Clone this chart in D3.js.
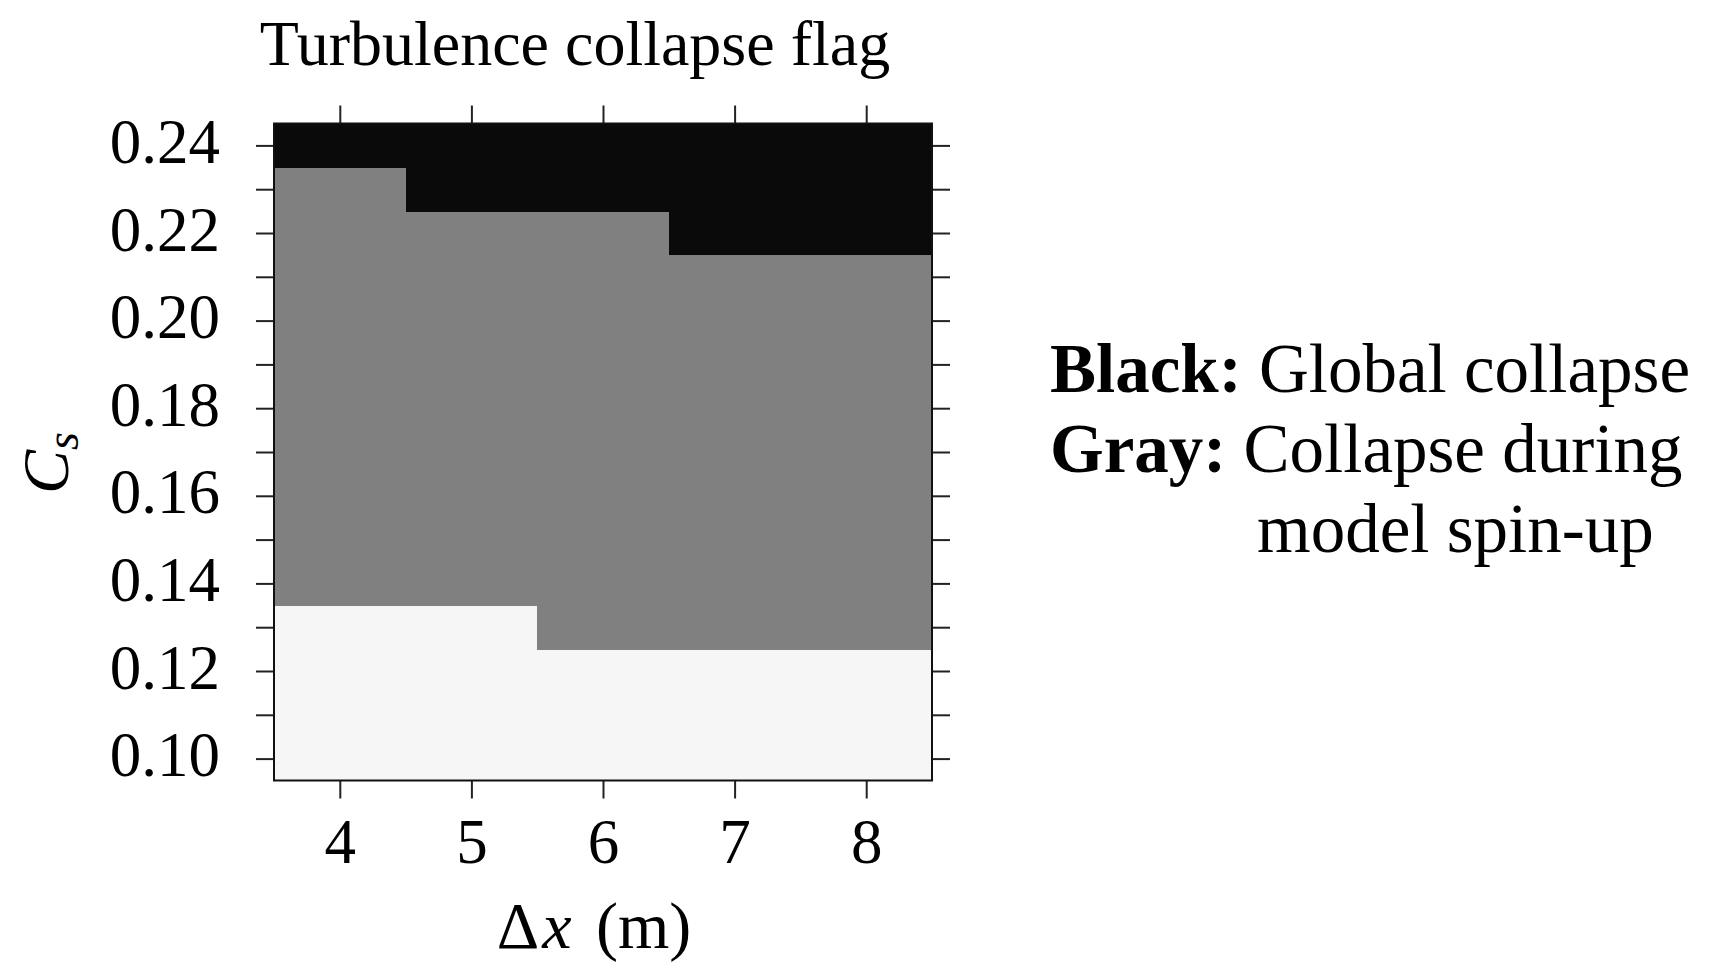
<!DOCTYPE html>
<html>
<head>
<meta charset="utf-8">
<script src="https://cdn.jsdelivr.net/npm/d3@7"></script>
<style>
  html, body { margin: 0; padding: 0; background: #fff; }
  svg text { font-family: "Liberation Serif", "Times New Roman", serif; fill: #000; }
</style>
</head>
<body>
<svg id="chart" width="1709" height="962"></svg>
<script>
// grid resolution (m) along x
const dxValues = [4, 5, 6, 7, 8];
// Smagorinsky constant along y
const csValues = [0.10, 0.11, 0.12, 0.13, 0.14, 0.15, 0.16, 0.17, 0.18, 0.19, 0.20, 0.21, 0.22, 0.23, 0.24];
// 0 = no collapse, 1 = collapse during spin-up, 2 = global collapse
// one row per Cs (bottom to top), one column per dx
const flagRows = [
  [0, 0, 0, 0, 0],  // 0.10
  [0, 0, 0, 0, 0],  // 0.11
  [0, 0, 0, 0, 0],  // 0.12
  [0, 0, 1, 1, 1],  // 0.13
  [1, 1, 1, 1, 1],  // 0.14
  [1, 1, 1, 1, 1],  // 0.15
  [1, 1, 1, 1, 1],  // 0.16
  [1, 1, 1, 1, 1],  // 0.17
  [1, 1, 1, 1, 1],  // 0.18
  [1, 1, 1, 1, 1],  // 0.19
  [1, 1, 1, 1, 1],  // 0.20
  [1, 1, 1, 1, 1],  // 0.21
  [1, 1, 1, 2, 2],  // 0.22
  [1, 2, 2, 2, 2],  // 0.23
  [2, 2, 2, 2, 2]   // 0.24
];
const yTickLabels = [0.10, 0.12, 0.14, 0.16, 0.18, 0.20, 0.22, 0.24];
const xTickLabels = [4, 5, 6, 7, 8];
const flagColors = ["#f6f6f6", "#808080", "#0a0a0a"];

const legendLines = [
  { bold: "Black:", text: " Global collapse" },
  { bold: "Gray:", text: " Collapse during" },
  { bold: "", text: "model spin-up" }
];

const plot = { left: 274, right: 932, top: 123.5, bottom: 780.5 };

const svg = d3.select("#chart");

const x = d3.scaleLinear().domain([3.5, 8.5]).range([plot.left, plot.right]);
const y = d3.scaleLinear().domain([0.095, 0.245]).range([plot.bottom, plot.top]);

// cells
const cells = [];
flagRows.forEach((row, i) => {
  row.forEach((f, j) => cells.push({ dx: dxValues[j], cs: csValues[i], flag: f }));
});

svg.append("g")
  .selectAll("rect")
  .data(cells)
  .enter().append("rect")
  .attr("x", d => x(d.dx - 0.5))
  .attr("y", d => y(d.cs + 0.005))
  .attr("width", d => x(d.dx + 0.5) - x(d.dx - 0.5) + 0.5)
  .attr("height", d => y(d.cs - 0.005) - y(d.cs + 0.005) + 0.5)
  .attr("fill", d => flagColors[d.flag])
  .attr("shape-rendering", "crispEdges");

// axes
const fmtY = d => yTickLabels.some(v => Math.abs(v - d) < 1e-9) ? d3.format(".2f")(d) : "";

function styleAxis(g) {
  g.select(".domain").remove();
  g.selectAll(".tick line").attr("stroke", "#222").attr("stroke-width", 2);
  g.selectAll(".tick text")
    .style("font-family", "'Liberation Serif', serif")
    .style("font-size", "63px")
    .attr("fill", "#000");
}

svg.append("g")
  .attr("transform", `translate(${plot.left},0)`)
  .call(d3.axisLeft(y).tickValues(csValues).tickFormat(fmtY).tickSize(18).tickPadding(36))
  .call(styleAxis)
  .call(g => g.selectAll(".tick text").attr("dy", "0.27em"));

svg.append("g")
  .attr("transform", `translate(${plot.right},0)`)
  .call(d3.axisRight(y).tickValues(csValues).tickFormat("").tickSize(18))
  .call(styleAxis);

svg.append("g")
  .attr("transform", `translate(0,${plot.top})`)
  .call(d3.axisTop(x).tickValues(dxValues).tickFormat("").tickSize(18))
  .call(styleAxis);

svg.append("g")
  .attr("transform", `translate(0,${plot.bottom})`)
  .call(d3.axisBottom(x).tickValues(xTickLabels).tickFormat(d3.format("d")).tickSize(18).tickPadding(0))
  .call(styleAxis)
  .call(g => g.selectAll(".tick text").attr("y", 82).attr("dy", 0));

// frame
svg.append("rect")
  .attr("x", plot.left).attr("y", plot.top)
  .attr("width", plot.right - plot.left).attr("height", plot.bottom - plot.top)
  .attr("fill", "none").attr("stroke", "#111").attr("stroke-width", 2);

// title
svg.append("text")
  .attr("x", 575).attr("y", 65)
  .attr("text-anchor", "middle")
  .style("font-size", "64px")
  .text("Turbulence collapse flag");

// x label
const xl = svg.append("text")
  .attr("x", 594).attr("y", 948)
  .attr("text-anchor", "middle")
  .style("font-size", "66px")
  .style("word-spacing", "8px");
xl.append("tspan").text("Δ");
xl.append("tspan").style("font-style", "italic").attr("dx", 3).text("x");
xl.append("tspan").text(" (m)");

// y label
const yl = svg.append("text")
  .attr("transform", "translate(68,463) rotate(-90)")
  .attr("text-anchor", "middle")
  .style("font-size", "66px");
yl.append("tspan").style("font-style", "italic").text("C");
yl.append("tspan").style("font-style", "italic").style("font-size", "46px").attr("dy", 10).text("s");

// legend text
const lg = svg.append("g");
lg.selectAll("text")
  .data(legendLines)
  .enter().append("text")
  .attr("x", (d, i) => i === 2 ? 1257 : 1050)
  .attr("y", (d, i) => 392 + i * 80)
  .style("font-size", "69px")
  .each(function(d) {
    const t = d3.select(this);
    if (d.bold) t.append("tspan").style("font-weight", "bold").text(d.bold);
    t.append("tspan").text(d.text);
  });
</script>
</body>
</html>
